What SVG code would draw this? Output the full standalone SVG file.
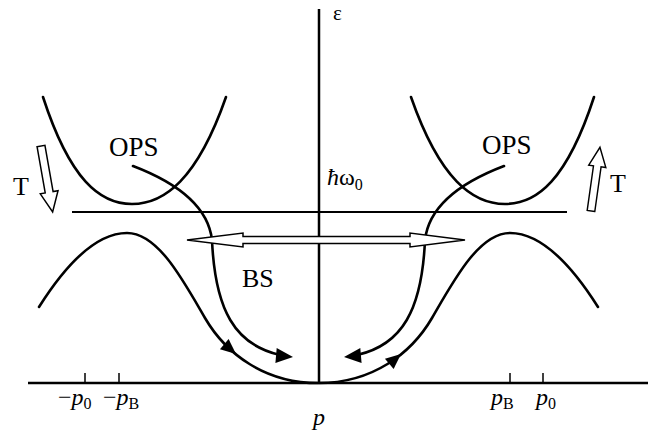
<svg xmlns="http://www.w3.org/2000/svg" xmlns:xlink="http://www.w3.org/1999/xlink" width="648" height="433" viewBox="0 0 648 433">
<style>
.c{fill:none;stroke:#000;stroke-width:2.6;stroke-linecap:round}
.ax{fill:none;stroke:#000;stroke-width:2.5}
.tk{fill:none;stroke:#000;stroke-width:1.5}
.hl{fill:none;stroke:#000;stroke-width:2}
.hol{fill:#fff;stroke:#000;stroke-width:1.5;stroke-linejoin:miter}
.hd{fill:#000;stroke:none}
text{font-family:"Liberation Serif","Times New Roman",serif;fill:#000}
.lb{font-size:27px}
.it{font-style:italic}
.pl{font-size:24px}
.sb{font-size:16px}
</style>
<defs>
<path id="ah" d="M0,0 L-17,-7.5 L-17,7.5 Z"/>
<path id="tarrow" d="M-4,0 L4,0 L4,47 L9,47 L0,67 L-9,47 L-4,47 Z"/>
</defs>
<rect width="648" height="433" fill="#fff"/>
<g id="axes">
<line class="ax" x1="319" y1="9" x2="319" y2="383"/>
<line class="ax" x1="28" y1="383" x2="648" y2="383"/>
<line class="tk" x1="85" y1="373" x2="85" y2="383"/>
<line class="tk" x1="119" y1="373" x2="119" y2="383"/>
<line class="tk" x1="510" y1="373" x2="510" y2="383"/>
<line class="tk" x1="543" y1="373" x2="543" y2="383"/>
</g>
<g id="level-hw0">
<line class="hl" x1="72" y1="212" x2="567" y2="212"/>
</g>
<g id="ops-left-band">
<path class="c" d="M43,97 C70,180 100,204 132,204 C164,204 197,180 226,97"/>
</g>
<g id="ops-right-band">
<path class="c" d="M411,97 C440,180 473,204 505,204 C537,204 567,180 594,97"/>
</g>
<g id="bs-left-band">
<path class="c" d="M39,307 C70,258 100,233 127,233 C158,233 183,280 205,318 C226,354 265,383 318,383"/>
</g>
<g id="bs-right-band">
<path class="c" d="M598,307 C567,258 537,233 510,233 C479,233 454,280 432,318 C411,354 372,383 319,383"/>
</g>
<g id="connectors">
<path class="c" d="M133,166 C175,182 208,205 212,240 C215,310 235,345 280,355"/>
<path class="c" d="M504,166 C462,182 429,205 425,240 C422,310 402,345 357,355"/>
<use xlink:href="#ah" href="#ah" class="hd" transform="translate(293,357) rotate(5)"/>
<use xlink:href="#ah" href="#ah" class="hd" transform="translate(344,357) rotate(175)"/>
<use xlink:href="#ah" href="#ah" class="hd" transform="translate(236,354) rotate(40) scale(0.9)"/>
<use xlink:href="#ah" href="#ah" class="hd" transform="translate(401,354) rotate(-40) scale(0.9)"/>
<polygon class="hol" points="187,240 243,233 243,236.5 410,236.5 410,233 465,240 410,247 410,243.5 243,243.5 243,247"/>
<use xlink:href="#tarrow" href="#tarrow" class="hol" transform="translate(41,146) rotate(-10)"/>
<use xlink:href="#tarrow" href="#tarrow" class="hol" transform="translate(591,211) rotate(188) scale(0.96)"/>
</g>
<g id="labels">
<text x="109" y="156" class="lb">OPS</text>
<text x="482" y="154" class="lb">OPS</text>
<text x="242" y="287" font-size="26">BS</text>
<text x="13" y="195" font-size="26">T</text>
<text x="610" y="192" font-size="26">T</text>
<text x="333" y="20" font-size="21">ε</text>
<text x="327" y="185" font-size="24"><tspan class="it">ħ</tspan>ω<tspan class="sb" dy="5">0</tspan></text>
<text x="58" y="405" class="pl">−<tspan class="it">p</tspan><tspan class="sb" dy="4">0</tspan></text>
<text x="103" y="405" class="pl">−<tspan class="it">p</tspan><tspan class="sb" dy="4">B</tspan></text>
<text x="491" y="405" class="pl"><tspan class="it">p</tspan><tspan class="sb" dy="4">B</tspan></text>
<text x="536" y="405" class="pl"><tspan class="it">p</tspan><tspan class="sb" dy="4">0</tspan></text>
<text x="319" y="425" class="pl it" text-anchor="middle">p</text>
</g>
</svg>
